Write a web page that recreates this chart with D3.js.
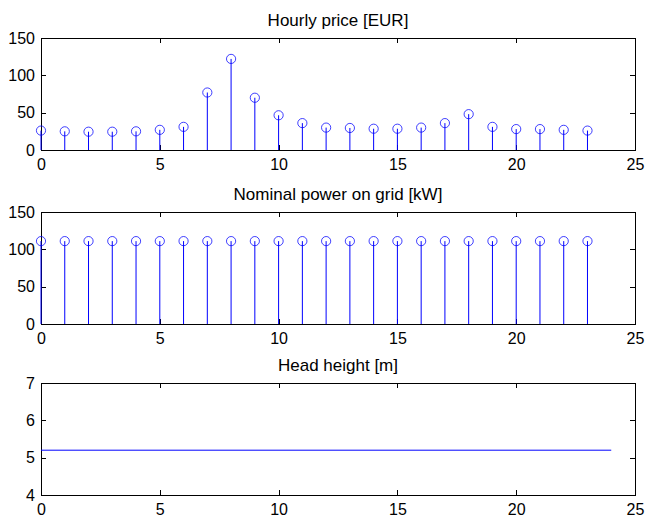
<!DOCTYPE html>
<html><head><meta charset="utf-8">
<script src="https://cdn.jsdelivr.net/npm/d3@7"></script>
<style>
body{margin:0;background:#fff;}
text{font-family:"Liberation Sans",Arial,sans-serif;}
</style></head>
<body><svg id="c" width="647" height="517"></svg>
<script>
const hours = d3.range(0, 24);
const price = [26, 25, 24.5, 24.5, 25, 27, 31, 77, 122, 70, 46.5, 36, 30, 29.5, 28.5, 28.5, 30, 36, 48, 31, 28, 28, 27, 26];
const power = [111, 111, 111, 111, 111, 111, 111, 111, 111, 111, 111, 111, 111, 111, 111, 111, 111, 111, 111, 111, 111, 111, 111, 111];
const headX = [0, 24];
const headY = [5.2, 5.2];
const xTicks = [0, 5, 10, 15, 20, 25];
const priceTicks = [0, 50, 100, 150];
const powerTicks = [0, 50, 100, 150];
const headTicks = [4, 5, 6, 7];
const titles = ["Hourly price [EUR]", "Nominal power on grid [kW]", "Head height [m]"];

const svg = d3.select("#c");
const L = 41, R = 635, H = 112;
const tops = [38, 212, 383];
const blue = "#0000ff";

function panel(i, yDomain, yTicks) {
  const top = tops[i];
  const g = svg.append("g");
  const x = d3.scaleLinear().domain([0, 25]).range([L, R]);
  const y = d3.scaleLinear().domain(yDomain).range([top + H, top]);
  g.append("rect").attr("x", L).attr("y", top).attr("width", R - L).attr("height", H)
    .attr("fill", "none").attr("stroke", "#000").attr("stroke-width", 1).attr("shape-rendering", "crispEdges");
  const ax = (gen) => gen.tickSizeOuter(0).tickPadding(6);
  const bottom = g.append("g").attr("transform", `translate(0,${top + H})`)
    .call(ax(d3.axisBottom(x).tickValues(xTicks).tickSize(-5).tickFormat(d3.format("d"))));
  const topAx = g.append("g").attr("transform", `translate(0,${top})`)
    .call(d3.axisTop(x).tickValues(xTicks).tickSize(-5).tickFormat(""));
  const left = g.append("g").attr("transform", `translate(${L},0)`)
    .call(ax(d3.axisLeft(y).tickValues(yTicks).tickSize(-5).tickFormat(d3.format("d"))));
  const right = g.append("g").attr("transform", `translate(${R},0)`)
    .call(d3.axisRight(y).tickValues(yTicks).tickSize(-5).tickFormat(""));
  [bottom, topAx, left, right].forEach(a => {
    a.select(".domain").remove();
    a.selectAll("line").attr("stroke", "#000").attr("shape-rendering", "crispEdges");
    a.selectAll("text").attr("font-size", 16).attr("fill", "#000")
      .style("font-family", '"Liberation Sans",Arial,sans-serif');
  });
  bottom.selectAll("text").attr("dy", "0.71em").attr("y", 9);
  left.selectAll("text").attr("x", -6);
  g.append("text").attr("x", (L + R) / 2).attr("y", top - 12).attr("text-anchor", "middle")
    .attr("font-size", 17).attr("fill", "#000").text(titles[i]);
  return {g, x, y};
}

function stems(p, vals) {
  const data = hours.map((h, i) => ({h, v: vals[i]}));
  p.g.selectAll("line.stem").data(data).join("line").attr("class", "stem")
    .attr("x1", d => p.x(d.h)).attr("x2", d => p.x(d.h))
    .attr("y1", p.y(0)).attr("y2", d => p.y(d.v))
    .attr("stroke", blue).attr("stroke-width", 1);
  p.g.selectAll("circle.mk").data(data).join("circle").attr("class", "mk")
    .attr("cx", d => p.x(d.h)).attr("cy", d => p.y(d.v)).attr("r", 4.6)
    .attr("fill", "none").attr("stroke", blue).attr("stroke-width", 1).attr("stroke-opacity", 0.75);
}

const p1 = panel(0, [0, 150], priceTicks);
stems(p1, price);
const p2 = panel(1, [0, 150], powerTicks);
stems(p2, power);
const p3 = panel(2, [4, 7], headTicks);
p3.g.append("path").datum(headX.map((x, i) => [x, headY[i]]))
  .attr("d", d3.line().x(d => p3.x(d[0])).y(d => p3.y(d[1])))
  .attr("fill", "none").attr("stroke", blue).attr("stroke-width", 1);
</script></body></html>
